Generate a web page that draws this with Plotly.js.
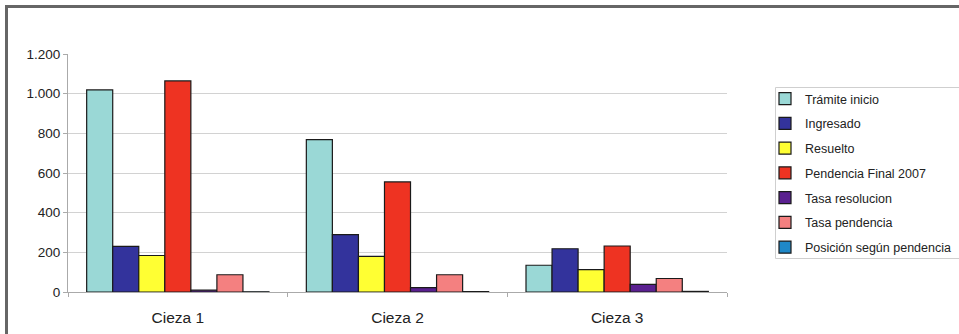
<!DOCTYPE html>
<html>
<head>
<meta charset="utf-8">
<script src="https://cdn.plot.ly/plotly-3.0.1.min.js"></script>
<style>html,body{margin:0;padding:0;background:#fff;}#chart{width:959px;height:334px;}</style>
</head>
<body>
<div id="chart"></div>
<script>
const categories = ["Cieza 1", "Cieza 2", "Cieza 3"];
const seriesNames = ["Trámite inicio", "Ingresado", "Resuelto", "Pendencia Final 2007", "Tasa resolucion", "Tasa pendencia", "Posición según pendencia"];
const tramiteInicio = [1019, 768, 135];
const ingresado = [230, 289, 218];
const resuelto = [184, 180, 113];
const pendenciaFinal2007 = [1064, 555, 232];
const tasaResolucion = [9, 22, 38];
const tasaPendencia = [87, 87, 68];
const posicionPendencia = [1, 2, 3];
const seriesColors = ["#9ad8d6", "#33339c", "#ffff33", "#ee3322", "#5a2090", "#f48080", "#1f88c8"];
const yTicks = [0, 200, 400, 600, 800, 1000, 1200];

const allValues = [tramiteInicio, ingresado, resuelto, pendenciaFinal2007, tasaResolucion, tasaPendencia, posicionPendencia];

const traces = allValues.map((vals, i) => ({
  type: 'bar',
  name: seriesNames[i],
  legendgroup: 'g' + i,
  x: categories,
  y: vals,
  marker: {color: seriesColors[i], line: {color: '#1a1a1a', width: 1.2}},
  hoverinfo: 'x+y+name'
}));

const W = 959, H = 334;
const mL = 68, mR = 232, mT = 54, mB = 42;
const pw = W - mL - mR, ph = H - mT - mB;
function px2x(p) { return (p - mL) / pw; }
function py2y(p) { return (H - mB - p) / ph; }

const lg = {l: 775.5, r: 959, t: 87.5, b: 258.5};

const layout = {
  width: W, height: H,
  margin: {l: mL, r: mR, t: mT, b: mB, pad: 0, autoexpand: false},
  paper_bgcolor: '#ffffff',
  plot_bgcolor: '#ffffff',
  separators: ',.',
  barmode: 'group',
  bargap: 0.17,
  bargroupgap: 0,
  font: {family: 'Liberation Sans, Arial, sans-serif', color: '#222'},
  showlegend: true,
  legend: {
    x: px2x(765), y: py2y(84), xanchor: 'left', yanchor: 'top',
    xref: 'paper', yref: 'paper',
    borderwidth: 0, bgcolor: 'rgba(255,255,255,0)',
    font: {size: 12.5, color: '#222'},
    tracegroupgap: 5.5, itemwidth: 30,
    traceorder: 'grouped'
  },
  xaxis: {
    type: 'category',
    showgrid: false,
    showline: true, linecolor: '#aaaaaa', linewidth: 1,
    ticks: 'outside', tickson: 'boundaries', ticklen: 4, tickcolor: '#aaaaaa',
    tickfont: {size: 15.5, color: '#222'},
    ticklabelstandoff: 11,
    fixedrange: true
  },
  yaxis: {
    range: [0, 1200],
    tickvals: yTicks,
    tickformat: ',d',
    showgrid: true, gridcolor: '#d2d2d2', gridwidth: 1,
    showline: true, linecolor: '#aaaaaa', linewidth: 1,
    ticks: 'outside', ticklen: 4, tickcolor: '#aaaaaa',
    tickfont: {size: 13.5, color: '#222'},
    zeroline: false,
    fixedrange: true
  },
  shapes: [
    {type: 'line', xref: 'paper', yref: 'paper', layer: 'above',
     x0: px2x(6.5), x1: px2x(6.5), y0: py2y(334), y1: py2y(5),
     line: {color: '#666666', width: 3}},
    {type: 'line', xref: 'paper', yref: 'paper', layer: 'above',
     x0: px2x(5), x1: px2x(959), y0: py2y(6.5), y1: py2y(6.5),
     line: {color: '#666666', width: 3}},
    {type: 'line', xref: 'paper', yref: 'paper', layer: 'below',
     x0: px2x(lg.l), x1: px2x(lg.r), y0: py2y(lg.t), y1: py2y(lg.t),
     line: {color: '#cfcfcf', width: 1}},
    {type: 'line', xref: 'paper', yref: 'paper', layer: 'below',
     x0: px2x(lg.l), x1: px2x(lg.r), y0: py2y(lg.b), y1: py2y(lg.b),
     line: {color: '#cfcfcf', width: 1}},
    {type: 'line', xref: 'paper', yref: 'paper', layer: 'below',
     x0: px2x(lg.l), x1: px2x(lg.l), y0: py2y(lg.t), y1: py2y(lg.b),
     line: {color: '#cfcfcf', width: 1}}
  ]
};

Plotly.newPlot('chart', traces, layout, {displayModeBar: false, staticPlot: true});
</script>
</body>
</html>
